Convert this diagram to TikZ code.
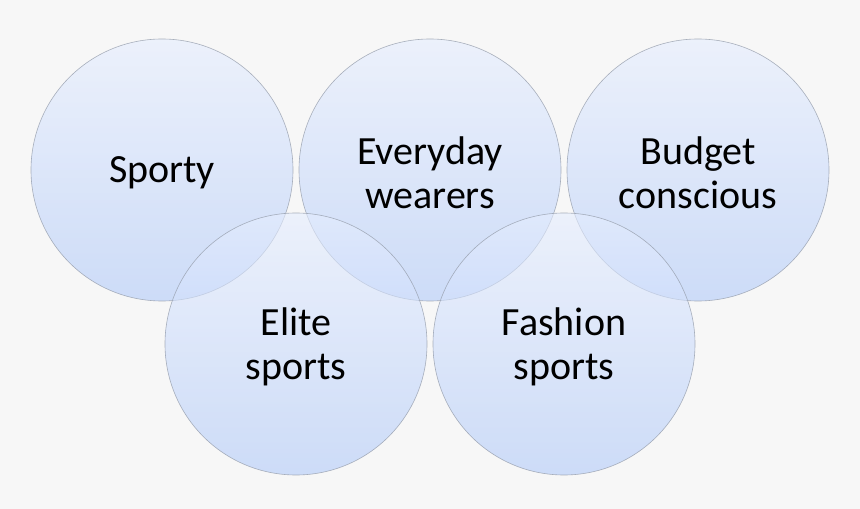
\documentclass[tikz,border=0pt]{standalone}
\usepackage{fontspec}
\setmainfont{Carlito}
\usetikzlibrary{positioning}
\definecolor{paper}{RGB}{247,247,247}
\definecolor{rimgrey}{RGB}{150,158,172}
\definecolor{ringtop}{RGB}{229,237,254}
\definecolor{ringbottom}{RGB}{177,202,249}
\tikzset{
  every picture/.style={line width=0.6pt},
  ring/.style={circle, draw=rimgrey, top color=ringtop, bottom color=ringbottom,
    fill opacity=0.6, draw opacity=0.8, minimum size=262pt, inner sep=0pt},
  tag/.style={align=center, inner sep=0pt, yshift=-3pt, font=\fontsize{40}{44}\selectfont},
}

\begin{document}
\begin{tikzpicture}[x=1pt, y=1pt]
  % grey sheet, 860 x 509
  \fill[paper] (0,0) rectangle (860,509);
  \useasboundingbox (0,0) rectangle (860,509);
  % top row of three rings, bottom row of two
  \node[ring, label={[tag]center:Sporty}] (sporty) at (162,339) {};
  \node[ring, label={[tag]center:Everyday\\ wearers}] (everyday) at (430,339) {};
  \node[ring, label={[tag]center:Budget\\ conscious}] (budget) at (698,339) {};
  \node[ring, label={[tag]center:Elite\\ sports}] (elite) at (296,165) {};
  \node[ring, label={[tag]center:Fashion\\ sports}] (fashion) at (564,165) {};
\end{tikzpicture}
\end{document}
